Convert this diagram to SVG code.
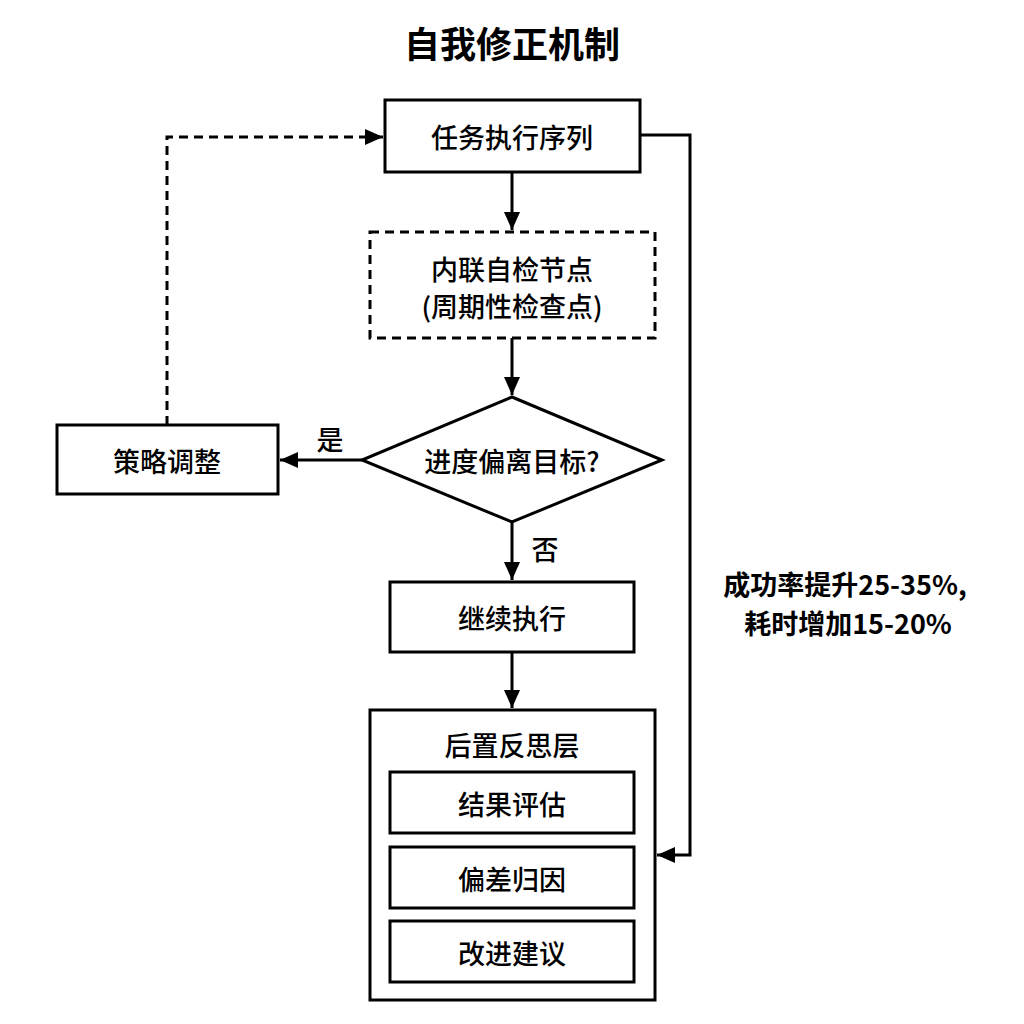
<svg xmlns="http://www.w3.org/2000/svg" width="1024" height="1024" viewBox="0 0 1024 1024">
<style>
text{font-family:"Noto Sans CJK SC","Liberation Sans",sans-serif;fill:#000;text-anchor:middle;dominant-baseline:central;font-weight:500}
.t{font-size:27px}
.b{font-weight:bold}
.box{fill:#fff;stroke:#000;stroke-width:3}
.ln{fill:none;stroke:#000;stroke-width:3}
.d{stroke-dasharray:9,6}
</style>
<defs><marker id="ah" markerWidth="20" markerHeight="20" refX="18" refY="10" orient="auto" markerUnits="userSpaceOnUse" viewBox="0 0 20 20"><path d="M0,2L18,10L0,18z" fill="#000"/></marker></defs>
<rect width="1024" height="1024" fill="#fff"/>
<text x="512" y="42" font-size="36" class="b">自我修正机制</text>
<g id="connectors">
<path class="ln" d="M512,172V230" marker-end="url(#ah)"/>
<path class="ln" d="M512,338V395" marker-end="url(#ah)"/>
<path class="ln" d="M362,460H280" marker-end="url(#ah)"/>
<path class="ln d" d="M167,425V137H383" marker-end="url(#ah)"/>
<path class="ln" d="M512,522V580" marker-end="url(#ah)"/>
<path class="ln" d="M512,652V708" marker-end="url(#ah)"/>
<path class="ln" d="M640,135H690V855H657" marker-end="url(#ah)"/>
<text x="330" y="438" class="t">是</text>
<text x="545" y="548" class="t">否</text>
<text x="845" y="583" font-size="27" class="b">成功率提升25-35%,</text>
<text x="848" y="622" font-size="27" class="b">耗时增加15-20%</text>
</g>
<g id="n1"><rect class="box" x="385" y="100" width="255" height="72"/><text x="512" y="136" class="t">任务执行序列</text></g>
<g id="n2"><rect class="box d" x="370" y="232" width="285" height="106"/><text x="512" y="268" class="t">内联自检节点</text><text x="512" y="305" class="t">(周期性检查点)</text></g>
<g id="n3"><polygon class="box" points="512,397 662,460 512,522 362,460"/><text x="512" y="460" class="t">进度偏离目标?</text></g>
<g id="n4"><rect class="box" x="57" y="425" width="221" height="69"/><text x="167" y="460" class="t">策略调整</text></g>
<g id="n5"><rect class="box" x="390" y="582" width="244" height="70"/><text x="512" y="617" class="t">继续执行</text></g>
<g id="n6"><rect class="box" x="370" y="710" width="285" height="290"/><text x="512" y="744" class="t">后置反思层</text>
<rect class="box" x="390" y="772" width="244" height="61"/><text x="512" y="803" class="t">结果评估</text>
<rect class="box" x="390" y="847" width="244" height="61"/><text x="512" y="878" class="t">偏差归因</text>
<rect class="box" x="390" y="921" width="244" height="61"/><text x="512" y="952" class="t">改进建议</text></g>
</svg>
